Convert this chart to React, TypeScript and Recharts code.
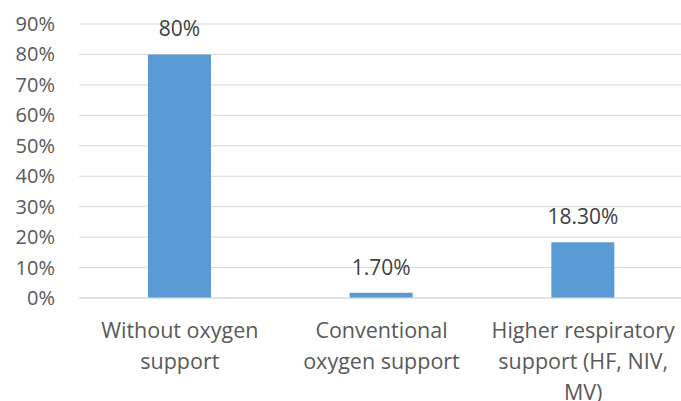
import { BarChart, Bar, XAxis, YAxis, CartesianGrid, LabelList } from "recharts";

const categories = [
  ["Without oxygen", "support"],
  ["Conventional", "oxygen support"],
  ["Higher respiratory", "support (HF, NIV,", "MV)"],
];
const values = [80, 1.7, 18.3];
const valueLabels = ["80%", "1.70%", "18.30%"];
const yTicks = [0, 10, 20, 30, 40, 50, 60, 70, 80, 90];

const data = categories.map((c, i) => ({
  name: c.join(" "),
  lines: c,
  value: values[i],
  label: valueLabels[i],
}));

const FONT = "'Open Sans', sans-serif";
const TEXT = "#595959";

const XTick = (props: any) => {
  const { x, y, index } = props;
  const lines = categories[index] || [];
  return (
    <text x={x} y={y} textAnchor="middle" fill={TEXT} fontFamily={FONT} fontSize={21.5}>
      {lines.map((l, i) => (
        <tspan key={i} x={x} y={y + 32 + i * 31}>
          {l}
        </tspan>
      ))}
    </text>
  );
};

const YTick = (props: any) => {
  const { y, payload } = props;
  return (
    <text x={55} y={y + 7} textAnchor="end" fill={TEXT} fontFamily={FONT} fontSize={20}>
      {payload.value}%
    </text>
  );
};

const ValueLabel = (props: any) => {
  const { x, y, width, index } = props;
  return (
    <text x={x + width / 2} y={y - 18} textAnchor="middle" fill="#404040" fontFamily={FONT} fontSize={21}>
      {valueLabels[index]}
    </text>
  );
};

export default function App() {
  return (
    <div style={{ position: "absolute", left: 0, top: 0, width: 681, height: 401, background: "#fff", overflow: "hidden" }}>
      <BarChart
        width={684}
        height={401}
        data={data}
        margin={{ top: 24, right: 0, left: 0, bottom: 0 }}
      >
        <CartesianGrid vertical={false} stroke="#D9D9D9" strokeWidth={1} />
        <XAxis
          dataKey="name"
          axisLine={{ stroke: "#D9D9D9" }}
          tickLine={false}
          height={103}
          interval={0}
          tick={<XTick />}
        />
        <YAxis
          domain={[0, 90]}
          ticks={yTicks}
          axisLine={false}
          tickLine={false}
          width={79}
          tick={<YTick />}
        />
        <Bar dataKey="value" fill="#5B9BD5" barSize={63} isAnimationActive={false}>
          <LabelList dataKey="label" content={<ValueLabel />} />
        </Bar>
      </BarChart>
    </div>
  );
}
